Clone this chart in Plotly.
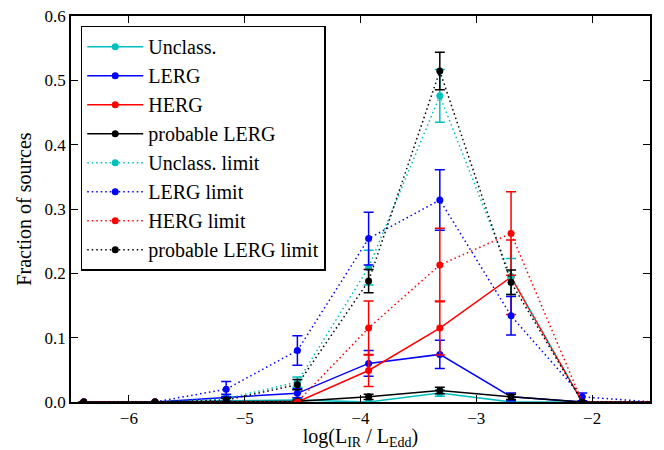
import plotly.graph_objects as go

x_bins = [-6.39, -5.775, -5.16, -4.545, -3.93, -3.315, -2.70, -2.085, -1.47]

unclass = [0, 0, 0.002, 0.003, 0.0, 0.014, 0.0, 0, 0]
unclass_err = [0, 0, 0.003, 0.003, 0, 0.005, 0, 0, 0]
lerg = [0, 0, 0.007, 0.0135, 0.060, 0.074, 0.008, 0, 0]
lerg_err = [0, 0, 0.005, 0.007, 0.020, 0.022, 0.006, 0, 0]
herg = [0, 0, 0, 0, 0.049, 0.115, 0.194, 0, 0]
herg_err = [0, 0, 0, 0, 0.025, 0.042, 0.058, 0, 0]
prob_lerg = [0, 0, 0, 0.001, 0.008, 0.018, 0.008, 0, 0]
prob_lerg_err = [0, 0, 0, 0.002, 0.004, 0.005, 0.004, 0, 0]

unclass_lim = [0, 0, 0.005, 0.031, 0.209, 0.476, 0.195, 0, 0]
unclass_lim_err = [0, 0, 0.004, 0.008, 0.027, 0.041, 0.028, 0, 0]
lerg_lim = [0, 0, 0.020, 0.080, 0.254, 0.314, 0.134, 0.008, 0]
lerg_lim_err = [0, 0, 0.012, 0.023, 0.041, 0.047, 0.030, 0.006, 0]
herg_lim = [0, 0, 0, 0, 0.115, 0.213, 0.262, 0, 0]
herg_lim_err = [0, 0, 0, 0, 0.042, 0.057, 0.065, 0, 0]
prob_lerg_lim = [0, 0, 0.003, 0.027, 0.188, 0.5145, 0.186, 0, 0]
prob_lerg_lim_err = [0, 0, 0.003, 0.008, 0.018, 0.029, 0.019, 0, 0]

series = [
    ("Unclass.", unclass, unclass_err, "#00bfbf", "solid"),
    ("LERG", lerg, lerg_err, "#0000ff", "solid"),
    ("HERG", herg, herg_err, "#ff0000", "solid"),
    ("probable LERG", prob_lerg, prob_lerg_err, "#000000", "solid"),
    ("Unclass. limit", unclass_lim, unclass_lim_err, "#00bfbf", "1.5px,3px"),
    ("LERG limit", lerg_lim, lerg_lim_err, "#0000ff", "1.5px,3px"),
    ("HERG limit", herg_lim, herg_lim_err, "#ff0000", "1.5px,3px"),
    ("probable LERG limit", prob_lerg_lim, prob_lerg_lim_err, "#000000", "1.5px,3px"),
]

fig = go.Figure()
for i, (name, y, err, color, dash) in enumerate(series):
    fig.add_trace(go.Scatter(
        x=x_bins, y=y, name=name, mode="lines+markers",
        line=dict(color=color, width=1.5, dash=dash),
        marker=dict(color=color, size=7),
        error_y=dict(type="data", array=err, visible=True, color=color,
                     thickness=1.5, width=5),
    ))

font = "Liberation Serif"
fig.update_layout(
    width=664, height=450,
    margin=dict(l=71, r=14, t=16, b=48, autoexpand=False),
    paper_bgcolor="white", plot_bgcolor="white",
    font=dict(family=font, size=17, color="black"),
    showlegend=True,
    legend=dict(x=0.0168, y=0.975, xanchor="left", yanchor="top",
                bgcolor="white", bordercolor="black", borderwidth=1.5,
                font=dict(family=font, size=20), itemwidth=56),
)
fig.update_xaxes(
    range=[-6.5, -1.5], dtick=1, tick0=-6, automargin=False,
    showline=True, linecolor="black", linewidth=1.5, mirror="ticks",
    ticks="inside", ticklen=7, tickwidth=1, tickcolor="black",
    showgrid=False, zeroline=False,
    tickfont=dict(family=font, size=17),
    title=dict(text="log(L<sub>IR</sub> / L<sub>Edd</sub>)", standoff=0,
               font=dict(family=font, size=20)),
)
fig.update_yaxes(
    range=[0, 0.6], dtick=0.1, tickformat=".1f", automargin=False,
    showline=True, linecolor="black", linewidth=1.5, mirror="ticks",
    ticks="inside", ticklen=7, tickwidth=1, tickcolor="black",
    showgrid=False, zeroline=False,
    tickfont=dict(family=font, size=17),
    title=dict(text="Fraction of sources", standoff=8,
               font=dict(family=font, size=20)),
)

fig.write_html("out.html", config={"displayModeBar": False},
               post_script="document.body.style.margin='0px';")
